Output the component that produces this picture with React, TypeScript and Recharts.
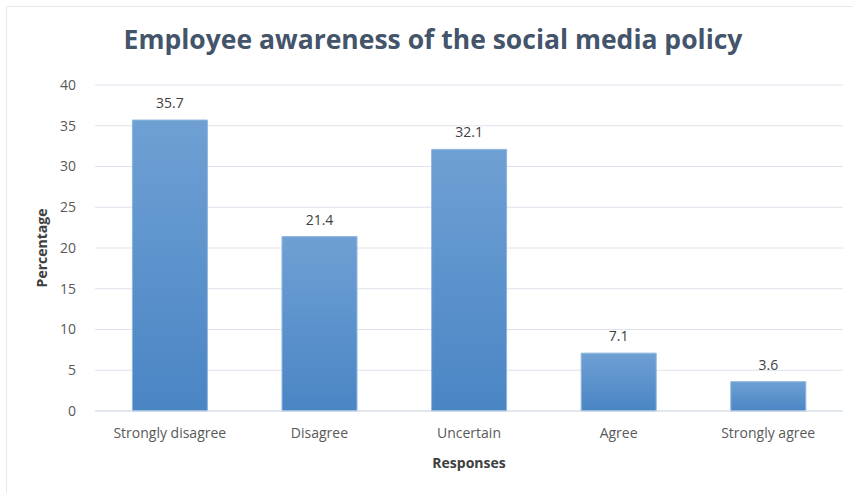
import { BarChart, Bar, XAxis, YAxis, CartesianGrid, LabelList } from "recharts";

const categories = ["Strongly disagree", "Disagree", "Uncertain", "Agree", "Strongly agree"];
const percentages = [35.7, 21.4, 32.1, 7.1, 3.6];
const yTicks = [0, 5, 10, 15, 20, 25, 30, 35, 40];

const data = categories.map((name, i) => ({ name, value: percentages[i] }));

const FONT = "'Open Sans', sans-serif";

export default function App() {
    return (
        <div
            style={{
                position: "absolute",
                left: 0,
                top: 0,
                width: 853,
                height: 493,
                background: "#fff",
                fontFamily: FONT,
            }}
        >
            {/* faint frame round the chart */}
            <div
                style={{
                    position: "absolute",
                    left: 6,
                    top: 6,
                    width: 860,
                    height: 500,
                    border: "1px solid #e6e9ee",
                }}
            />
            <div
                style={{
                    position: "absolute",
                    top: 21,
                    left: 0,
                    width: 866,
                    textAlign: "center",
                    fontSize: 26.5,
                    fontWeight: 700,
                    color: "#44546a",
                }}
            >
                Employee awareness of the social media policy
            </div>
            <div style={{ position: "absolute", left: 0, top: 0 }}>
                <BarChart
                    width={853}
                    height={493}
                    data={data}
                    margin={{ top: 85, right: 10, bottom: 52, left: 55 }}
                    barCategoryGap="25%"
                >
                    <defs>
                        <linearGradient id="barFill" x1="0" y1="0" x2="0" y2="1">
                            <stop offset="0%" stopColor="#6fa0d4" />
                            <stop offset="100%" stopColor="#4a85c4" />
                        </linearGradient>
                    </defs>
                    <CartesianGrid vertical={false} stroke="#dce3ec" />
                    <XAxis
                        dataKey="name"
                        height={30}
                        axisLine={{ stroke: "#d5dde8" }}
                        tickLine={false}
                        tickSize={0}
                        tickMargin={17}
                        tick={{ fontSize: 14, fill: "#595959", fontFamily: FONT }}
                        label={{
                            value: "Responses",
                            position: "insideBottom",
                            offset: -27,
                            style: { fontSize: 14, fontWeight: 700, fill: "#404040", fontFamily: FONT },
                        }}
                    />
                    <YAxis
                        width={40}
                        domain={[0, 40]}
                        ticks={yTicks}
                        axisLine={false}
                        tickLine={false}
                        tickSize={0}
                        tickMargin={19}
                        tick={{ fontSize: 14, fill: "#595959", fontFamily: FONT }}
                        label={{
                            value: "Percentage",
                            angle: -90,
                            position: "insideLeft",
                            offset: -13,
                            style: {
                                fontSize: 14,
                                fontWeight: 700,
                                fill: "#404040",
                                fontFamily: FONT,
                                textAnchor: "middle",
                            },
                        }}
                    />
                    <Bar
                        dataKey="value"
                        fill="url(#barFill)"
                        stroke="#8fb6e0"
                        strokeWidth={1}
                        isAnimationActive={false}
                    >
                        <LabelList
                            dataKey="value"
                            position="top"
                            offset={12}
                            style={{ fontSize: 14, fill: "#404040", fontFamily: FONT }}
                        />
                    </Bar>
                </BarChart>
            </div>
        </div>
    );
}
